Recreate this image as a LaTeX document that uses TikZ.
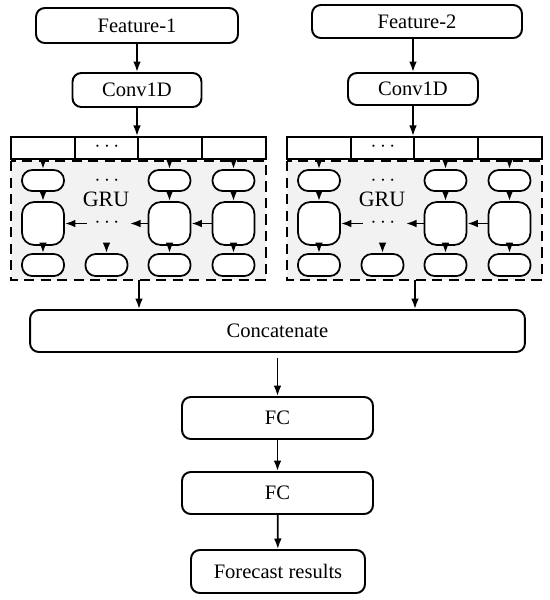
\documentclass[tikz,border=0pt]{standalone}
\usepackage{fontspec}
\setmainfont{Liberation Serif}
\usetikzlibrary{arrows.meta}
\tikzstyle{boite} = [draw,rounded corners=5pt,line width=1.1pt,inner sep=0pt,font=\fontsize{11.7}{14}\selectfont]
\tikzstyle{cellule} = [draw,fill=white,rounded corners=5.8pt,line width=1pt,minimum width=0.84cm,inner sep=0pt]
\tikzstyle{fleche} = [-{Latex[length=6pt,width=4.4pt]},line width=1pt]
\tikzstyle{points} = [inner sep=0pt,font=\fontsize{11.7}{12}\selectfont]

\begin{document}
\begin{tikzpicture}[x=0.02cm,y=-0.02cm]
	\useasboundingbox (0,0) rectangle (550,600);

	\node[boite,minimum width=4.04cm,minimum height=0.7cm] (F1) at (137,25.5) {Feature-1};
	\node[boite,minimum width=4.2cm,minimum height=0.66cm] (F2) at (417,21.5) {Feature-2};
	\node[boite,minimum width=2.58cm,minimum height=0.68cm] (C1) at (137,90) {Conv1D};
	\node[boite,minimum width=2.6cm,minimum height=0.64cm] (C2) at (413,89) {Conv1D};

	% two GRU modules
	\foreach \m/\dx in {1/0,2/276} {
	\begin{scope}[shift={(\dx,0)}]
		\draw[dash pattern=on 5.8pt off 3.6pt,line width=0.9pt,fill=gray!10] (11,161) rectangle (266,280);
		\node[draw,line width=1.2pt,fill=white,minimum width=5.1cm,minimum height=0.44cm,inner sep=0pt] (B\m) at (138.5,148) {};
		\draw[line width=1pt] (75,137) -- (75,159) (202,137) -- (202,159) (138,137) -- (138,159);
		\node[points] (pb\m) at (107,147) {$\cdots$};

		\foreach \c/\x in {1/43,3/169.5,4/233.5} {
			\node[cellule,minimum height=0.42cm] (h\m\c) at (\x,180.5) {};
			\node[cellule,minimum height=0.86cm,rounded corners=7pt] (g\m\c) at (\x,223.5) {};
			\node[cellule,minimum height=0.44cm] (o\m\c) at (\x,265) {};
			\draw[fleche] (B\m.south -| h\m\c) -- (h\m\c);
			\draw[fleche] (h\m\c) -- (g\m\c);
			\draw[fleche] (g\m\c) -- (o\m\c);
		}
		\node[cellule,minimum height=0.44cm] (o\m2) at (106.5,265) {};
		\coordinate (a\m) at (106.5,247);
		\draw[fleche] (a\m) -- (o\m2);

		\node[points] (ph\m) at (107,181) {$\cdots$};
		\node[inner sep=0pt,font=\fontsize{12.5}{13}\selectfont] (GRU\m) at (106,199.5) {GRU};
		\node[points] (pm\m) at (107,223) {$\cdots$};
		\coordinate (d\m) at (130,223.5);
		\coordinate (e\m) at (87,223.5);
		\draw[fleche] (g\m4) -- (g\m3);
		\draw[fleche] (g\m3) -- (d\m);
		\draw[fleche] (e\m) -- (g\m1);
		\coordinate (S\m) at (139,280);
	\end{scope}
	}

	\draw[fleche] (F1.south -| C1) -- (C1);
	\draw[fleche] (F2.south -| C2) -- (C2);
	\draw[fleche] (C1) -- (C1 |- B1.north);
	\draw[fleche] (C2) -- (C2 |- B2.north);

	\node[boite,minimum width=9.9cm,minimum height=0.84cm] (K) at (277.5,331) {Concatenate};
	\draw[fleche] (S1) -- (S1 |- K.north);
	\draw[fleche] (S2) -- (S2 |- K.north);

	\node[boite,minimum width=3.82cm,minimum height=0.84cm] (FC1) at (277.5,418) {FC};
	\node[boite,minimum width=3.82cm,minimum height=0.84cm] (FC2) at (277.5,493) {FC};
	\node[boite,minimum width=3.48cm,minimum height=0.86cm] (R) at (278,571.5) {Forecast results};

	\draw[fleche,shorten <=3pt] (K) -- (FC1);
	\draw[fleche] (FC1) -- (FC2);
	\draw[fleche] (FC2) -- (R);
\end{tikzpicture}
\end{document}
